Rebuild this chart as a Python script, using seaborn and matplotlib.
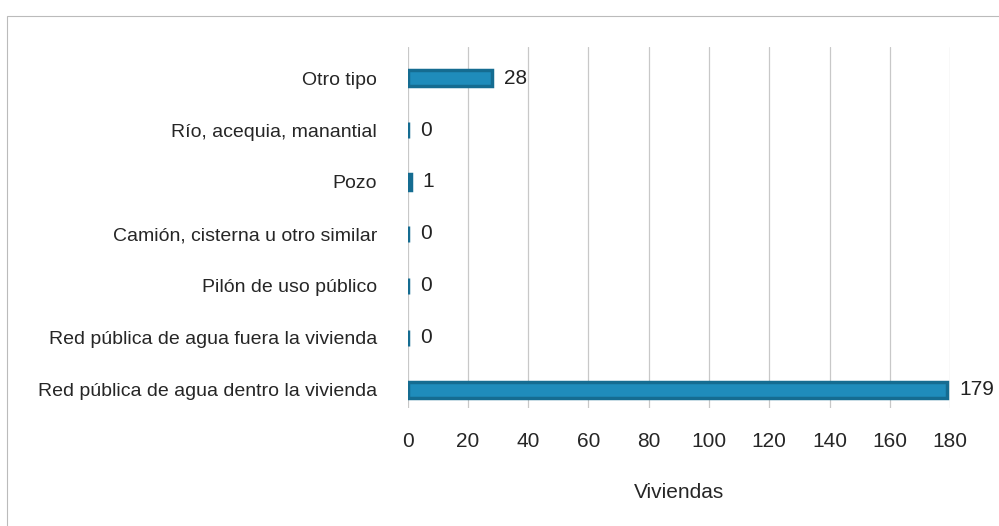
import matplotlib
matplotlib.use("Agg")
import matplotlib.pyplot as plt
import seaborn as sns
import pandas as pd

categorias = [
    "Otro tipo",
    "Río, acequia, manantial",
    "Pozo",
    "Camión, cisterna u otro similar",
    "Pilón de uso público",
    "Red pública de agua fuera la vivienda",
    "Red pública de agua dentro la vivienda",
]
viviendas = [28, 0, 1, 0, 0, 0, 179]
ticks_x = [0, 20, 40, 60, 80, 100, 120, 140, 160, 180]

df = pd.DataFrame({"categoria": categorias, "viviendas": viviendas})

sns.set_style("white")
plt.rcParams["font.family"] = ["Liberation Sans", "DejaVu Sans"]

fig = plt.figure(figsize=(9.99, 5.26), dpi=100)
ax = fig.add_axes([0.408, 0.224, 0.543, 0.687])

color = "#1f8cbb"
sns.barplot(data=df, x="viviendas", y="categoria", orient="h", color=color,
            width=0.3, edgecolor="#156c91", linewidth=2.5, ax=ax, saturation=1)

for i, v in enumerate(viviendas):
    ax.text(v + 4, i, str(v), va="center", ha="left", fontsize=15, color="#222222")

ax.set_xlim(0, 180)
ax.set_xticks(ticks_x)
ax.set_ylim(6.35, -0.6)
ax.grid(axis="x", color="#c8c8c8", linewidth=0.9)
ax.set_axisbelow(True)
for s in ax.spines.values():
    s.set_visible(False)
ax.tick_params(axis="x", length=0, pad=17, labelsize=15)
ax.tick_params(axis="y", length=0, pad=22, labelsize=14)
ax.set_ylabel("")
ax.set_xlabel("Viviendas", fontsize=15, labelpad=23)

fig.patches.append(plt.Rectangle((0.007, -0.01), 1.0, 0.98, transform=fig.transFigure,
                                 fill=False, edgecolor="#bbbbbb", linewidth=0.8))

fig.savefig("out.png", dpi=100)
